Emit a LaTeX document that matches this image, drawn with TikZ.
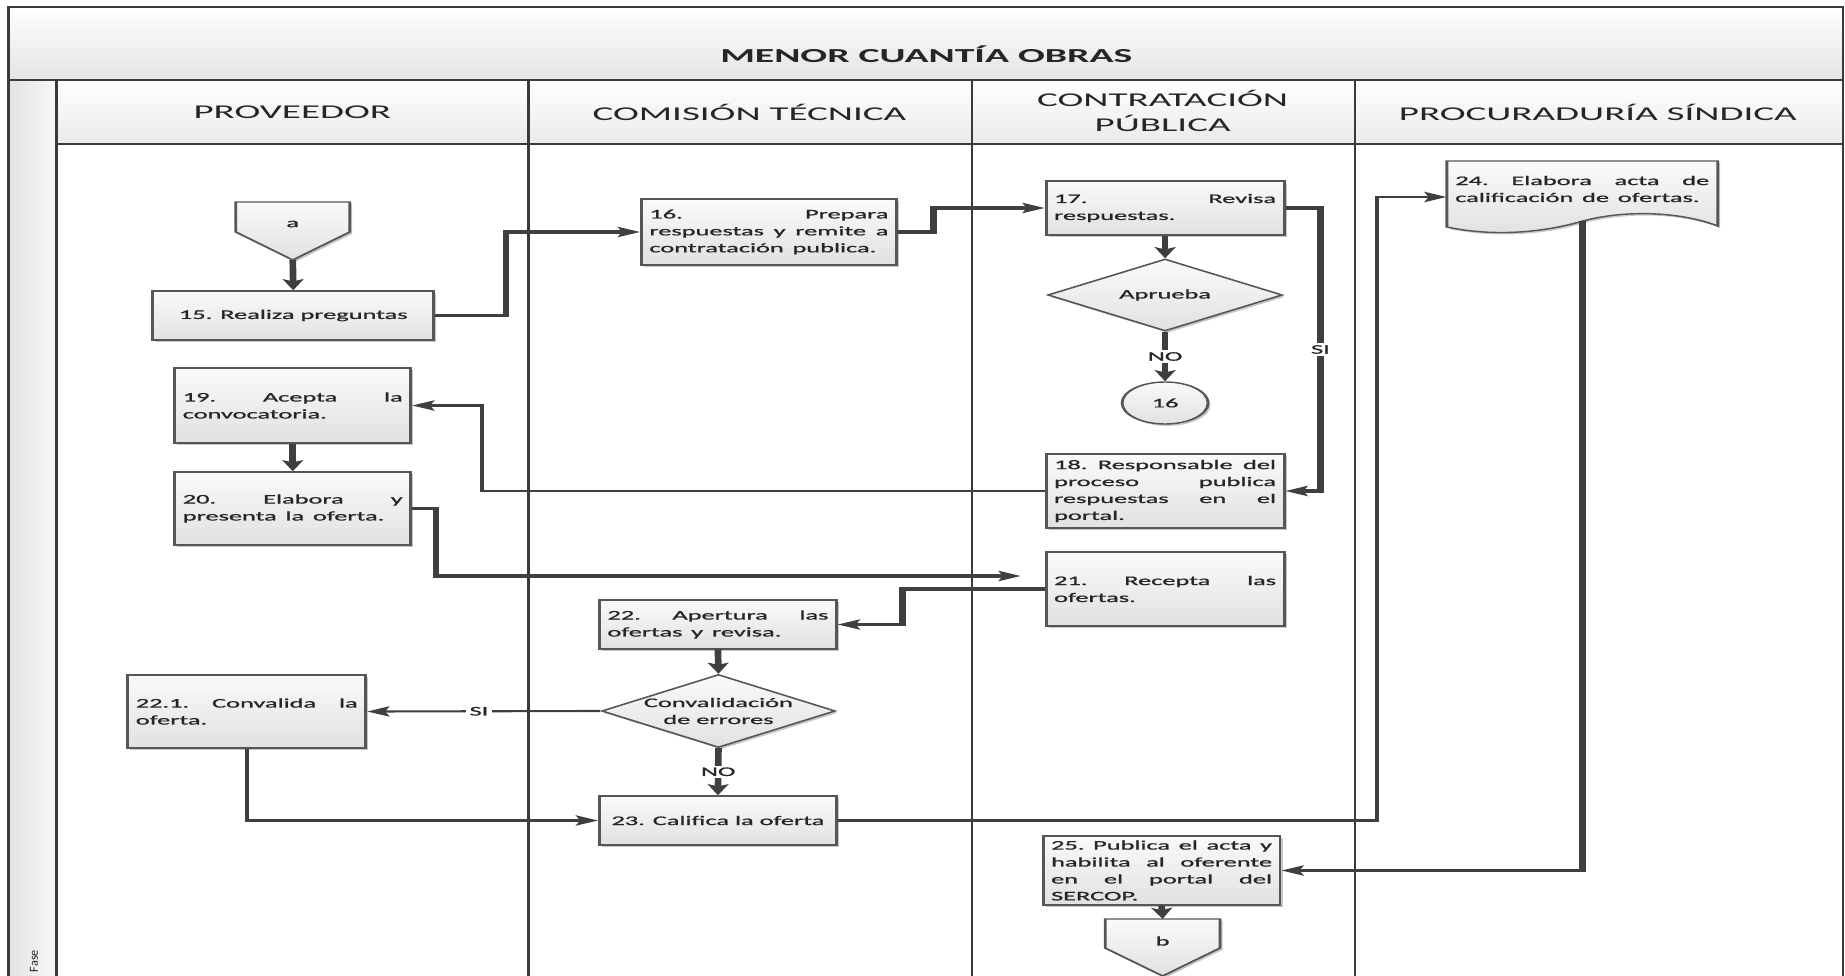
\documentclass[tikz,border=0pt]{standalone}
\usepackage{fontspec}
\setmainfont{Carlito}
\newfontface\boxface[FakeBold=0.8]{Carlito}
\usetikzlibrary{arrows.meta,shapes.geometric,shadows,calc}

\definecolor{laneline}{HTML}{3A3A3A}
\definecolor{conn}{HTML}{3F3F3F}
\definecolor{boxline}{HTML}{565656}
\definecolor{boxtop}{HTML}{FAFAFA}
\definecolor{boxbot}{HTML}{E1E1E1}
\definecolor{txt}{HTML}{262626}
\definecolor{bandbot}{HTML}{E4E4E4}
\definecolor{hdrbot}{HTML}{EAEAEA}

\newcommand\boxfont{\boxface\fontsize{7.5pt}{9.64pt}\selectfont}
\newcommand\hdrfont{\fontsize{11.1pt}{14.2pt}\selectfont}
\newcommand\ttlfont{\bfseries\fontsize{11.3pt}{13.6pt}\selectfont}
% one justified line, spread evenly over the text width of its box
\newcommand\jw{0pt}
\newcommand\jl[1]{\leavevmode\hbox to \jw{\frenchspacing\spaceskip=0.25em plus 1fil\relax
  \xspaceskip=0.25em plus 1fil\relax #1}\\}

\tikzset{
  lane/.style={draw=laneline, line width=1.5pt},
  tw/.style={text width=#1, execute at begin node={\def\jw{#1}}},
  shade box/.style={top color=boxtop, bottom color=boxbot, draw=boxline, line width=0.8pt,
     drop shadow={shadow xshift=0.7pt, shadow yshift=-1.1pt, opacity=0.22, fill=black}},
  task/.style={shade box, rectangle, inner xsep=2.276pt, inner ysep=1pt, font=\boxfont, text=txt, align=left},
  task c/.style={shade box, rectangle, inner sep=1pt, font=\boxfont, text=txt, align=center},
  decision/.style={shade box, diamond, inner sep=0pt},
  terminal/.style={shade box, ellipse, inner sep=0pt, font=\boxfont, text=txt},
  dtext/.style={font=\boxfont, text=txt, align=center, inner sep=0pt},
  flow/.style={draw=conn, line width=1.9pt, -{Stealth[length=6.3pt,width=5.8pt,inset=1.2pt]}},
  flow thin/.style={flow, line width=1.2pt},
  tag/.style={fill=white, inner sep=1pt, font=\boxfont, text=txt},
  hdr/.style={font=\hdrfont, text=txt, align=center},
}

\begin{document}
\begin{tikzpicture}[x=0.02cm,y=-0.02cm]
\useasboundingbox (0,0) rectangle (1845,976);

% swimlane frame
\shade[top color=white, bottom color=bandbot] (8.7,7) rectangle (1843,80);
\shade[top color=white, bottom color=hdrbot] (56.5,80) rectangle (1843,144);
\shade[left color=gray!22, right color=gray!6] (8.7,80) rectangle (56.5,976);
\draw[lane] (8.7,976) -- (8.7,7) -- (1843,7) -- (1843,976);
\draw[lane] (8.7,80) -- (1843,80);
\draw[lane] (56.5,144) -- (1843,144);
\foreach \x in {56.5,528.5,972,1355} \draw[lane] (\x,80) -- (\x,976);
\node[rotate=90, font=\fontsize{7}{8}\selectfont, text=txt, inner sep=0pt] (fase) at (34,961) {Fase};

% flow content, drawn in a horizontally widened canvas
\begin{scope}[x=0.01cm, transform canvas={xscale=2}]
\node[font=\ttlfont, text=txt] (ttl) at (927,54) {MENOR CUANTÍA OBRAS};
\node[hdr] (h1) at (292.5,112) {PROVEEDOR};
\node[hdr] (h2) at (750,112) {COMISIÓN TÉCNICA};
\node[hdr] (h3) at (1163.5,110.5) {CONTRATACIÓN\\PÚBLICA};
\node[hdr] (h4) at (1599,112) {PROCURADURÍA SÍNDICA};

% off-page connector a
\path[shade box] (236,202) -- (350,202) -- (350,232) -- (293,260) -- (236,232) -- cycle;
\node[dtext] (conA) at (293,224) {a};
\coordinate (aTip) at (293,260);

\node[task c, minimum width=79.95pt, minimum height=27.9pt] (b15) at (293.5,315.5) {15. Realiza preguntas};
\node[task, tw=68.0pt, minimum height=37.56pt] (b16) at (769.5,232) {\jl{16. Prepara}\jl{respuestas y remite a}contratación publica.};
\node[task, tw=63.17pt, minimum height=30.73pt] (b17) at (1166,208) {\jl{17. Revisa}respuestas.};
\node[decision, minimum width=66.86pt, minimum height=40.97pt] (dA) at (1166,295) {};
\node[dtext] (dAt) at (dA) {Aprueba};
\node[terminal, minimum width=24.47pt, minimum height=23.9pt] (c16) at (1166,403) {16};
\node[task, tw=63.17pt, minimum height=42.11pt] (b18) at (1166,491) {\jl{18. Responsable del}\jl{proceso publica}\jl{respuestas en el}portal.};
\node[task, tw=62.6pt, minimum height=42.68pt] (b19) at (293,405.5) {\jl{19. Acepta la}convocatoria.};
\node[task, tw=62.6pt, minimum height=41.54pt] (b20) at (293,508.5) {\jl{20. Elabora y}presenta la oferta.};
\node[task, tw=63.17pt, minimum height=42.11pt] (b21) at (1166,589) {\jl{21. Recepta las}ofertas.};
\node[task, tw=62.88pt, minimum height=27.88pt] (b22) at (718.5,624.5) {\jl{22. Apertura las}ofertas y revisa.};
\node[decision, minimum width=66.58pt, minimum height=41.54pt] (dC) at (719,711) {};
\node[dtext] (dCt) at (dC) {Convalidación\\de errores};
\node[task, tw=63.17pt, minimum height=41.54pt] (b221) at (247,711.5) {\jl{22.1. Convalida la}oferta.};
\node[task c, minimum width=67.43pt, minimum height=27.88pt] (b23) at (718.5,820.5) {23. Califica la oferta};

% document shape for step 24
\path[shade box] (1448,161) -- (1719,161) -- (1719,226)
  .. controls (1680,211) and (1625,210) .. (1584,221)
  .. controls (1540,234) and (1490,236) .. (1448,227) -- cycle;
\node[dtext, align=left, tw=72.27pt, inner xsep=2.276pt] (b24) at (1583.5,189) {\jl{24. Elabora acta de}calificación de ofertas.};
\coordinate (b24s) at (1584,221);

\node[task, tw=62.88pt, minimum height=39.26pt] (b25) at (1162.5,870.5) {\jl{25. Publica el acta y}\jl{habilita al oferente}\jl{en el portal del}SERCOP.};

% off-page connector b
\path[shade box] (1106,919) -- (1221,919) -- (1221,948) -- (1163.5,976) -- (1106,948) -- cycle;
\node[dtext] (conB) at (1163.5,941) {b};
\coordinate (bTop) at (1163.5,919);

% connectors
\draw[flow] (aTip) -- (b15.north);
\draw[flow] (b15.east) -- ++(71,0) |- (b16.west);
\draw[flow] (b16.east) -- ++(36,0) |- (b17.west);
\draw[flow] (b17.south) -- (dA.north);
\draw[flow, line width=1.5pt] (dA.south) -- node[tag]{NO} (c16.north);
\draw[flow] (b17.east) -- ++(35,0) |- node[tag, pos=0.25]{SI} (b18.east);
\draw[flow thin] (b18.west) -| ($(b19.east)+(70,0)$) -- (b19.east);
\draw[flow] (b19.south) -- (b20.north);
\draw[flow] (b20.east) -- ++(24,0) |- ($(b21.west)+(-24,-13)$);
\draw[flow] (b21.west) -- ++(-142,0) |- (b22.east);
\draw[flow] (b22.south) -- (dC.north);
\draw[flow thin] (dC.west) -- node[tag, pos=0.52]{SI} (b221.east);
\draw[flow] (dC.south) -- node[tag]{NO} (b23.north);
\draw[flow thin] (b221.south) |- (b23.west);
\draw[flow thin] (b23.east) -| ($(b24.west)+(-70,8)$) -- ($(b24.west)+(0,8)$);
\draw[flow] (b24s) |- (b25.east);
\draw[flow] (b25.south) -- (bTop);
\end{scope}
\end{tikzpicture}
\end{document}
